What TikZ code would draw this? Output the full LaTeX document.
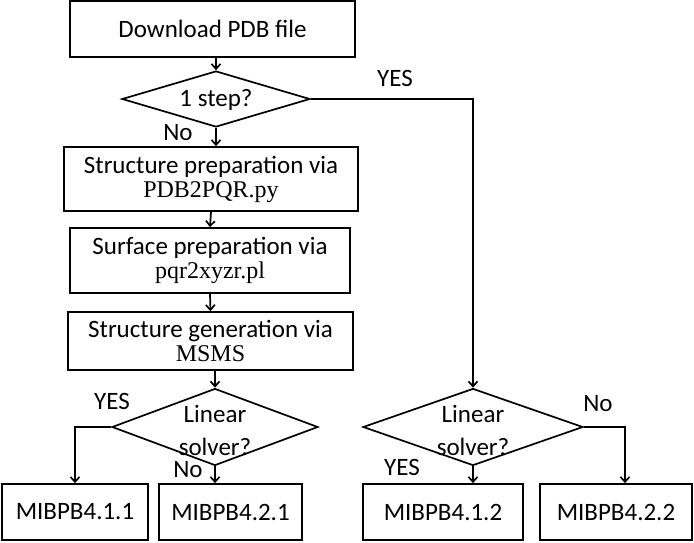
\documentclass[tikz,border=0pt]{standalone}
\usepackage{fontspec}
\setmainfont{Carlito}
\newfontfamily\timesfont{Liberation Serif}
\usetikzlibrary{shapes.geometric, arrows.meta, positioning}

\tikzset{
  stepbox/.style={rectangle, draw, line width=1.7pt, inner sep=0pt, align=center},
  decision/.style={diamond, draw, line width=1.7pt, inner sep=0pt},
  flow/.style={line width=1.7pt, -{Straight Barb[length=5pt,width=9pt]}},
  branch/.style={font=\fontsize{25}{26}\selectfont},
}

\begin{document}
\begin{tikzpicture}[x=1pt, y=-1pt, font=\fontsize{25}{24}\selectfont]
\useasboundingbox (0,0) rectangle (694,542);
% Boxes
\node[stepbox, minimum width=285pt, minimum height=56pt] (download) at (212.5,29) {Download PDB file};
\node[decision, minimum width=188pt, minimum height=56pt] (onestep) at (216,99) {};
\node[stepbox, minimum width=294pt, minimum height=64pt] (structure) at (211,179) {Structure preparation via\\{\fontsize{24}{24}\timesfont PDB2PQR.py}};
\node[stepbox, minimum width=280pt, minimum height=65pt] (surface) at (210,260.5) {Surface preparation via\\{\fontsize{24}{24}\timesfont pqr2xyzr.pl}};
\node[stepbox, minimum width=285pt, minimum height=58pt] (generation) at (210.5,341) {Structure generation via\\{\fontsize{24}{24}\timesfont MSMS}};
\node[decision, minimum width=206pt, minimum height=77pt] (linearA) at (215,427) {};
\node[decision, minimum width=220pt, minimum height=77pt] (linearB) at (473,427) {};
\node[stepbox, minimum width=146pt, minimum height=56pt] (mibA) at (75,512) {MIBPB4.1.1};
\node[stepbox, minimum width=143pt, minimum height=56pt] (mibB) at (230.5,512) {MIBPB4.2.1};
\node[stepbox, minimum width=160pt, minimum height=56pt] (mibC) at (443,512) {MIBPB4.1.2};
\node[stepbox, minimum width=152pt, minimum height=56pt] (mibD) at (616,512) {MIBPB4.2.2};

% Text in diamonds
\node (onesteptext) at (onestep) [yshift=-1pt] {1 step?};
\node[align=center] (linearAtext) at (linearA) [yshift=-3pt] {Linear\\[9pt]solver?};
\node[align=center] (linearBtext) at (linearB) [yshift=-3pt] {Linear\\[9pt]solver?};

% Arrows
\draw[flow] (onestep.north |- download.south) -- (onestep.north);
\draw[flow] (onestep.south) -- (onestep.south |- structure.north);
\draw[flow] (onestep.east) -| (linearB.north);
\draw[flow] (structure.south) -- (surface.north);
\draw[flow] (surface.south) -- (generation.north);
\draw[flow] (linearA.north |- generation.south) -- (linearA.north);
\draw[flow] (linearA.west) -| (mibA.north);
\draw[flow] (linearA.south) -- (linearA.south |- mibB.north);
\draw[flow] (linearB.south) -- (linearB.south |- mibC.north);
\draw[flow] (linearB.east) -| ([xshift=9pt]mibD.north);

% Labels
\node[branch] (noA) at (178,133) {No};
\node[branch] (yesA) at (395,78) {YES};
\node[branch] (yesB) at (112,401) {YES};
\node[branch] (noB) at (188,470) {No};
\node[branch] (noC) at (598,404) {No};
\node[branch] (yesC) at (402,467) {YES};
\end{tikzpicture}
\end{document}
